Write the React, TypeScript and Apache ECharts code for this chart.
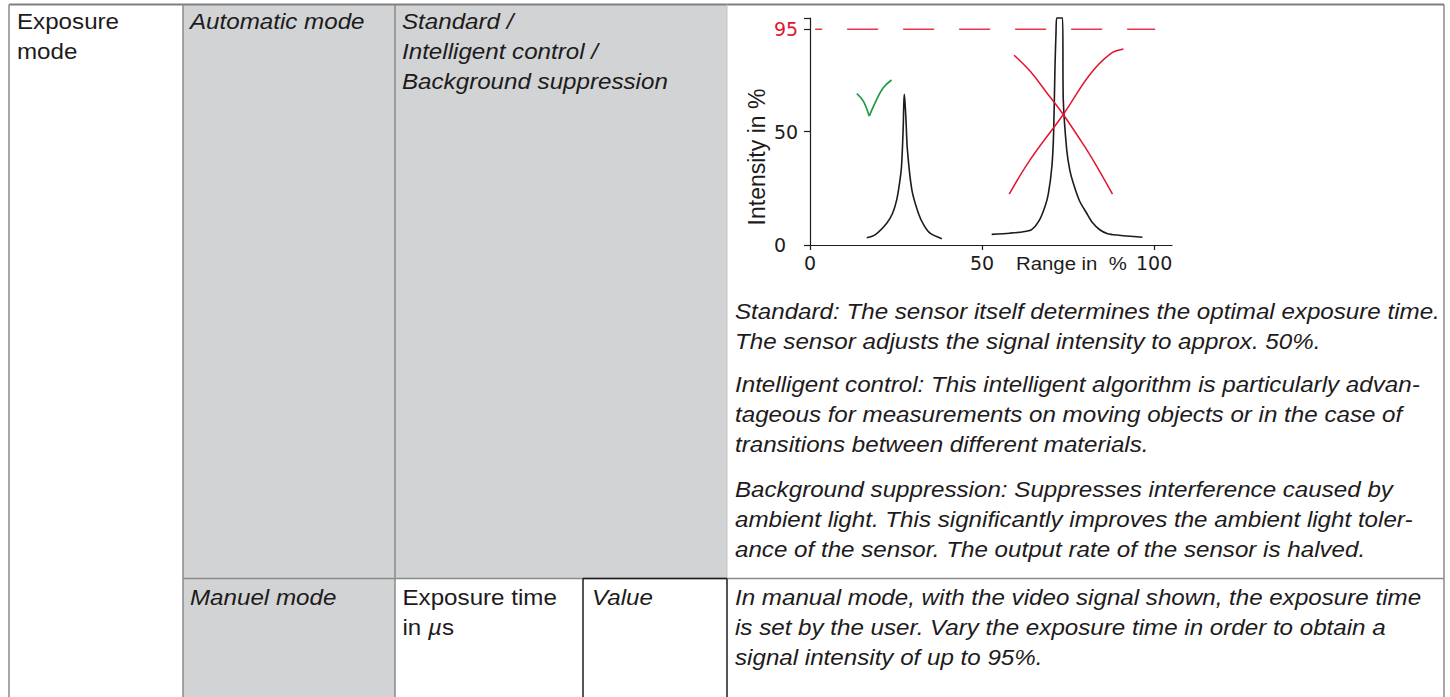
import React, { useEffect, useRef } from "react";
import * as echarts from "echarts";

// ---------- chart data ----------
const xTickValues = [0, 50, 100];
const yTickValues = [0, 50, 95, 100];
const yLabelValues = [0, 50, 95];
const xMax = 105.2;
const yMax = 100;
const thresholdValue = 95;
const thresholdFromTo = [1.5, 100.3];

const goodPeak: number[][] = [
  [16.5, 3.2], [19, 4.6], [22.3, 9.6], [24, 14], [25.2, 19.9], [26, 27], [26.6, 34.7],
  [27.1, 52.4], [27.25, 62], [27.4, 66.4], [27.6, 63], [27.9, 55], [28.3, 42], [29.6, 24.3],
  [31.5, 14], [33, 9], [34.9, 5.2], [38.3, 2.8],
];
const badPeak: number[][] = [
  [52.8, 4.7], [58, 5.2], [62, 5.8], [64.4, 6.8], [66.5, 10.5], [68.3, 17], [69.3, 22.9],
  [70.3, 34.7], [70.8, 49.4], [71.2, 78.9], [71.5, 93.7], [71.7, 100], [73.4, 100],
  [73.6, 64.2], [74.6, 42], [75.5, 33], [76.5, 27.3], [78.3, 19.5], [80.4, 14], [82, 10],
  [84.3, 6.6], [86.5, 5], [89.2, 4.4], [96.6, 3.4],
];
const redFalling: number[][] = [
  [59.3, 83.6], [64, 76.5], [68.8, 67.1], [73.6, 57.5], [80.4, 42], [83.3, 34.7], [87.9, 22.4],
];
const redRising: number[][] = [
  [57.9, 22.4], [64, 37.6], [73.6, 57.5], [81.4, 75.2], [87.2, 84.1], [91.1, 86.3],
];
const checkLeft: number[][] = [[13.6, 66.7], [15.5, 63.4], [17.2, 56.8]];
const checkRight: number[][] = [[17.2, 56.8], [19.4, 64.2], [21.3, 69.3], [23.7, 72.7]];

const yAxisTitle = "Intensity in %";
const xAxisTitle = "Range in  %";

// ---------- table texts ----------
const colParameter = ["Exposure", "mode"];
const autoMode = ["Automatic mode"];
const autoOptions = ["Standard /", "Intelligent control /", "Background suppression"];
const paraStandard = [
  "Standard: The sensor itself determines the optimal exposure time.",
  "The sensor adjusts the signal intensity to approx. 50%.",
];
const paraIntelligent = [
  "Intelligent control: This intelligent algorithm is particularly advan-",
  "tageous for measurements on moving objects or in the case of",
  "transitions between different materials.",
];
const paraBackground = [
  "Background suppression: Suppresses interference caused by",
  "ambient light. This significantly improves the ambient light toler-",
  "ance of the sensor. The output rate of the sensor is halved.",
];
const manualMode = ["Manuel mode"];
const exposureTime = ["Exposure time"];
const valueCell = ["Value"];
const paraManual = [
  "In manual mode, with the video signal shown, the exposure time",
  "is set by the user. Vary the exposure time in order to obtain a",
  "signal intensity of up to 95%.",
];

const INK = "#1e1b1c";
const RED = "#e4142f";
const GREEN = "#1f9a45";
const GRAYFILL = "#d1d3d4";
const GRAYLINE = "#8a8a8a";
const SX = 1.14;
const FS = 21.2;
const LH = 29.6;

function textLines(lines: string[], x: number, y0: number, italic: boolean) {
  return lines.map((s, i) => ({
    type: "text",
    x,
    y: y0 + i * LH,
    scaleX: SX,
    silent: true,
    style: {
      text: s,
      fontFamily: "Liberation Sans",
      fontSize: FS,
      fontStyle: italic ? "italic" : "normal",
      fill: INK,
      align: "left",
      verticalAlign: "middle",
    },
  }));
}

function hline(x1: number, x2: number, y: number, color: string, w: number) {
  return { type: "line", silent: true, shape: { x1, y1: y, x2, y2: y }, style: { stroke: color, lineWidth: w } };
}
function vline(x: number, y1: number, y2: number, color: string, w: number) {
  return { type: "line", silent: true, shape: { x1: x, y1, x2: x, y2 }, style: { stroke: color, lineWidth: w } };
}

export default function App() {
  const ref = useRef<HTMLDivElement>(null);
  useEffect(() => {
    if (!ref.current) return;
    const chart = echarts.init(ref.current, undefined, { renderer: "svg" });

    const L = 9, R = 1444, T = 4.5, B = 697, C1 = 183, C2 = 395, C3 = 583, C4 = 727, RS = 578.5;

    const graphics: any[] = [
      { type: "rect", silent: true, shape: { x: C1, y: T, width: C2 - C1, height: B - T }, style: { fill: GRAYFILL } },
      { type: "rect", silent: true, shape: { x: C2, y: T, width: C4 - C2, height: RS - T }, style: { fill: GRAYFILL } },
      hline(L, R, T, "#7f7f7f", 2),
      vline(L, T, B, GRAYLINE, 1.5),
      vline(R, T, B, GRAYLINE, 1.5),
      vline(C1, T, B, GRAYLINE, 1.5),
      vline(C2, T, B, GRAYLINE, 1.5),
      hline(C1, R, RS, GRAYLINE, 1.5),
      vline(C4, T, RS, "#c4c4c4", 1),
      vline(C3, RS, B, INK, 1.5),
      vline(C4, RS, B, INK, 1.5),
      hline(C3, C4, RS, INK, 1.5),
      ...textLines(colParameter, 17, 22, false),
      ...textLines(autoMode, 190, 22, true),
      ...textLines(autoOptions, 402, 22, true),
      ...textLines(paraStandard, 735, 312, true),
      ...textLines(paraIntelligent, 735, 385, true),
      ...textLines(paraBackground, 735, 490, true),
      ...textLines(manualMode, 190, 598, true),
      ...textLines(exposureTime, 402.5, 598, false),
      {
        type: "text",
        x: 402.5,
        y: 598 + LH,
        scaleX: SX,
        silent: true,
        style: {
          text: "{r|in }{i|\u00b5}{r|s}",
          align: "left",
          verticalAlign: "middle",
          fill: INK,
          rich: {
            r: { fontFamily: "Liberation Sans", fontSize: FS, fill: INK, color: INK },
            i: { fontFamily: "Liberation Sans", fontSize: FS, fontStyle: "italic", fill: INK, color: INK },
          },
        },
      },
      ...textLines(valueCell, 592, 598, true),
      ...textLines(paraManual, 735, 598, true),
      {
        type: "text",
        x: 757,
        y: 157,
        rotation: Math.PI / 2,
        silent: true,
        style: {
          text: yAxisTitle,
          fontFamily: "Liberation Sans",
          fontSize: 23,
          fill: INK,
          align: "center",
          verticalAlign: "middle",
        },
      },
      {
        type: "text",
        x: 1016,
        y: 263,
        scaleX: 1.1,
        silent: true,
        style: {
          text: xAxisTitle,
          fontFamily: "Liberation Sans",
          fontSize: 18.5,
          fill: INK,
          align: "left",
          verticalAlign: "middle",
        },
      },
    ];

    const lineSeries = (data: number[][], color: string, width: number, smooth: number) => ({
      type: "line",
      data,
      showSymbol: false,
      symbol: "none",
      smooth,
      silent: true,
      clip: false,
      lineStyle: { color, width },
    });

    chart.setOption({
      animation: false,
      backgroundColor: "#ffffff",
      grid: { left: 810, top: 18, width: 362, height: 227, containLabel: false },
      xAxis: {
        type: "value",
        min: 0,
        max: xMax,
        splitLine: { show: false },
        axisLine: { show: true, onZero: false, lineStyle: { color: INK, width: 1.2 } },
        axisTick: { show: true, customValues: xTickValues, length: 5, lineStyle: { color: INK, width: 1.2 } },
        axisLabel: {
          customValues: xTickValues,
          margin: 8,
          fontFamily: "DejaVu Sans",
          fontSize: 19,
          color: INK,
        },
      },
      yAxis: {
        type: "value",
        min: 0,
        max: yMax,
        splitLine: { show: false },
        axisLine: { show: true, onZero: false, lineStyle: { color: INK, width: 1.2 } },
        axisTick: { show: true, customValues: yTickValues, length: 6, lineStyle: { color: INK, width: 1.2 } },
        axisLabel: {
          customValues: yLabelValues,
          align: "left",
          margin: 36,
          fontFamily: "DejaVu Sans",
          fontSize: 19,
          color: (v: any) => (Number(v) === thresholdValue ? RED : INK),
        },
      },
      graphic: { elements: graphics },
      series: [
        {
          ...lineSeries(
            [[thresholdFromTo[0], thresholdValue], [thresholdFromTo[1], thresholdValue]],
            "#e8384f",
            1.5,
            0
          ),
          lineStyle: { color: "#e8384f", width: 1.5, type: [31, 25], dashOffset: 24 },
        },
        lineSeries(goodPeak, INK, 1.6, 0.3),
        lineSeries(badPeak, INK, 1.6, 0.25),
        lineSeries(redFalling, RED, 1.5, 0.4),
        lineSeries(redRising, RED, 1.5, 0.4),
        lineSeries(checkLeft, GREEN, 1.7, 0.4),
        lineSeries(checkRight, GREEN, 1.7, 0.4),
      ],
    });

    return () => chart.dispose();
  }, []);

  return (
    <div
      ref={ref}
      style={{ position: "absolute", left: 0, top: 0, width: 1450, height: 697, background: "#fff" }}
    />
  );
}
